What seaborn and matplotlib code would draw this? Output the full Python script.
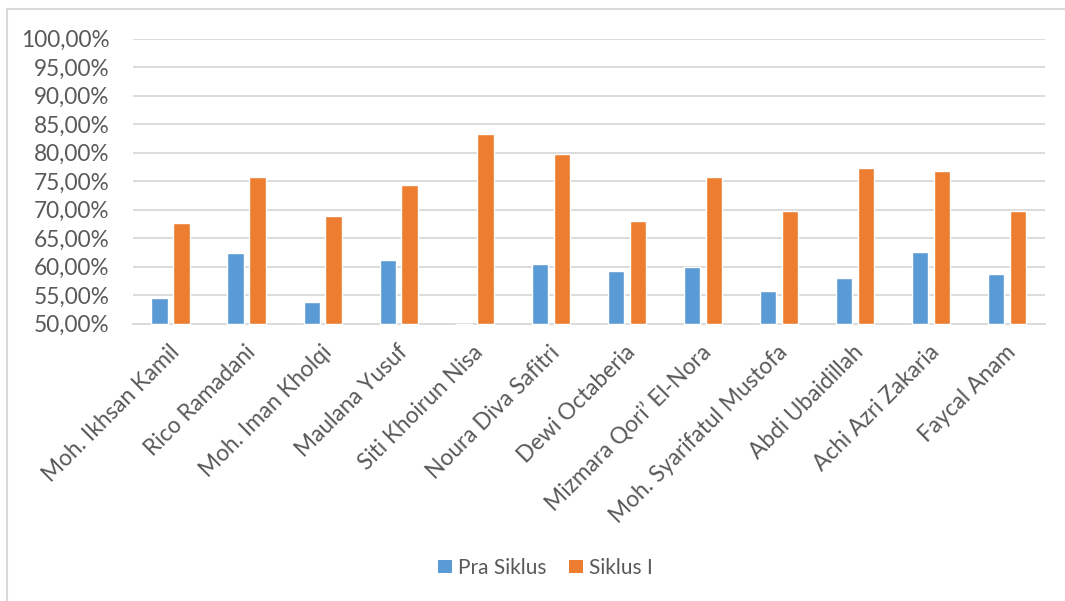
import matplotlib
matplotlib.use("Agg")
import matplotlib.pyplot as plt
import matplotlib.transforms as mtransforms
from matplotlib.patches import Rectangle, Patch
from matplotlib.ticker import FuncFormatter
import pandas as pd
import seaborn as sns

# ---- data ----
students = [
    "Moh. Ikhsan Kamil", "Rico Ramadani", "Moh. Iman Kholqi", "Maulana Yusuf",
    "Siti Khoirun Nisa", "Noura Diva Safitri", "Dewi Octaberia",
    "Mizmara Qori\u2019 El-Nora", "Moh. Syarifatul Mustofa", "Abdi Ubaidillah",
    "Achi Azri Zakaria", "Faycal Anam",
]
pra_siklus = [54.5, 62.4, 53.8, 61.1, 49.7, 60.5, 59.2, 60.0, 55.7, 57.9, 62.5, 58.6]
siklus_1 = [67.6, 75.7, 68.8, 74.3, 83.2, 79.7, 68.0, 75.7, 69.8, 77.3, 76.8, 69.7]
series_names = ["Pra Siklus", "Siklus I"]
series_colors = ["#5B9BD5", "#ED7D31"]
y_ticks = [50, 55, 60, 65, 70, 75, 80, 85, 90, 95, 100]

df = pd.DataFrame({
    "Siswa": students + students,
    "Siklus": [series_names[0]] * len(students) + [series_names[1]] * len(students),
    "Nilai": pra_siklus + siklus_1,
})

sns.set_theme(style="white")
plt.rcParams["font.family"] = ["Lato", "DejaVu Sans"]

W, H = 1065, 601
fig = plt.figure(figsize=(W / 100, H / 100), dpi=100)
fig.patch.set_facecolor("white")
ax = fig.add_axes([132.6 / W, 1 - 323.5 / H, (1045 - 132.6) / W, (323.5 - 38.5) / H])

sns.barplot(data=df, x="Siswa", y="Nilai", hue="Siklus", hue_order=series_names,
            palette=series_colors, width=0.576, gap=0.25, saturation=1,
            errorbar=None, legend=False, ax=ax, zorder=3)

# bars start at the axis minimum (Excel style)
base = y_ticks[0]
for p in ax.patches:
    h = p.get_height()
    p.set_y(base)
    p.set_height(h - base)
    p.set_clip_on(False)
    p.set_zorder(4)

ax.set_ylim(y_ticks[0], y_ticks[-1])
ax.set_yticks(y_ticks)
ax.yaxis.set_major_formatter(FuncFormatter(lambda v, _: f"{v:.2f}%".replace(".", ",")))
ax.yaxis.grid(True, color="#D9D9D9", linewidth=1.3, zorder=0)
ax.set_axisbelow(True)
for s in ["left", "right", "top"]:
    ax.spines[s].set_visible(False)
ax.spines["bottom"].set_color("#D9D9D9")
ax.spines["bottom"].set_linewidth(1.3)
ax.set_xlabel("")
ax.set_ylabel("")

ax.tick_params(axis="y", length=0, pad=16.5, labelsize=16.3, labelcolor="#595959")
ax.tick_params(axis="x", length=0, pad=13, labelsize=16.3, labelcolor="#595959")
offset = mtransforms.ScaledTranslation(-2 / 100, 0, fig.dpi_scale_trans)
for lab in ax.get_xticklabels():
    lab.set_rotation(45)
    lab.set_ha("right")
    lab.set_va("top")
    lab.set_rotation_mode("anchor")
    lab.set_transform(lab.get_transform() + offset)

handles = [Patch(facecolor=c, edgecolor="none") for c in series_colors]
fig.legend(handles, series_names, loc="center", bbox_to_anchor=(545.5 / W, 1 - 568 / H),
           ncol=2, frameon=False, fontsize=15, labelcolor="#595959",
           handlelength=0.67, handleheight=0.63, handletextpad=0.3, columnspacing=1.05)

fig.add_artist(Rectangle((7 / W, -0.05), 2.0, (1 - 9 / H) + 0.05, transform=fig.transFigure,
                         fill=False, edgecolor="#D9D9D9", linewidth=1.5))

fig.savefig("out.png", dpi=100)
